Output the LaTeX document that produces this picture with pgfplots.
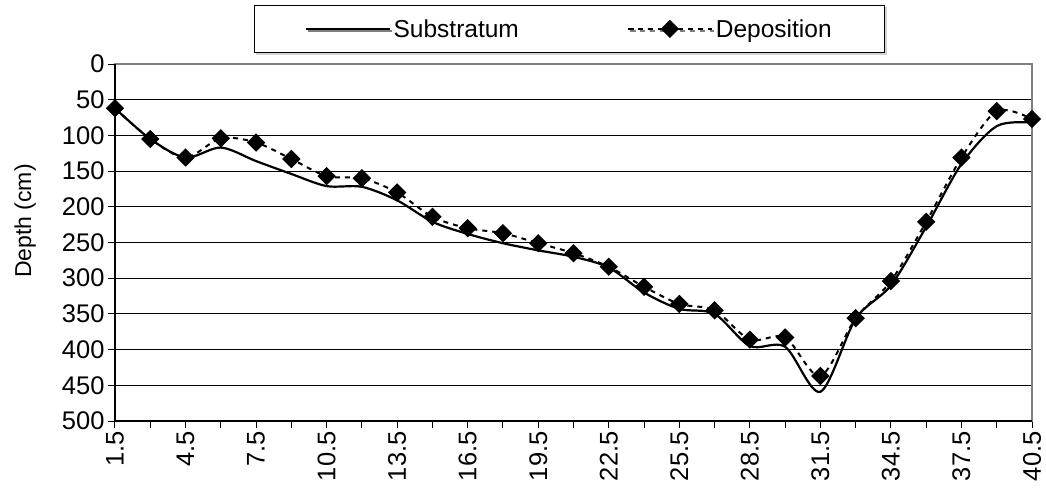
\documentclass[border=0pt]{standalone}
\usepackage{pgfplots}
\pgfplotsset{compat=1.18}
\usepackage{pgfplotstable}
\usepackage{fontspec}
\setmainfont{Liberation Sans}
\usetikzlibrary{shadows}

% depth profile (cm)
\pgfplotstableread{
x    sub  dep
1.5  62   62
3    105  105
4.5  131  131
6    117  104
7.5  136  110
9    154  133
10.5 171  157
12   172  160
13.5 191  180
15   221  214
16.5 238  230
18   251  237
19.5 261  251
21   270  265
22.5 285  284
24   320  312
25.5 343  336
27   350  345
28.5 395  386
30   396  383
31.5 459  437
33   357  356
34.5 310  304
36   228  221
37.5 140  131
39   87   66
40.5 82   77
}\depthdata

\begin{document}
\begin{tikzpicture}
\begin{axis}[
    scale only axis,
    width=917pt, height=357pt,
    xmin=1.5, xmax=40.5,
    ymin=0, ymax=500,
    y dir=reverse,
    clip=false,
    /pgf/number format/assume math mode=true,
    tick label style={font=\fontsize{25.5}{29}\selectfont},
    xtick={1.5,4.5,7.5,10.5,13.5,16.5,19.5,22.5,25.5,28.5,31.5,34.5,37.5,40.5},
    xticklabels={1.5,4.5,7.5,10.5,13.5,16.5,19.5,22.5,25.5,28.5,31.5,34.5,37.5,40.5},
    minor xtick={3,6,9,12,15,18,21,24,27,30,33,36,39},
    ytick={0,50,...,500},
    xticklabel style={rotate=90, anchor=east},
    ymajorgrids,
    grid style={black, line width=1pt},
    tick align=outside,
    xtick pos=left, ytick pos=left,
    major tick length=7pt, minor tick length=7pt,
    every tick/.style={black, line width=1pt},
    axis line style={draw=gray, line width=1.5pt},
    ylabel={Depth (cm)},
    ylabel style={font=\fontsize{23}{27}\selectfont,
        at={(axis description cs:-0.098,0.56)}, anchor=center},
    legend columns=2,
    legend image code/.code={
        \draw[mark repeat=2, mark phase=2, #1]
        plot coordinates {(0pt,0pt) (42pt,0pt) (84pt,0pt)};},
    legend style={
        at={(axis description cs:0.4957,1)}, anchor=south, yshift=11pt,
        draw=black, line width=1pt,
        drop shadow={shadow xshift=2pt, shadow yshift=-2pt, fill=gray!70},
        fill=white,
        inner xsep=50pt, inner ysep=12pt,
        nodes={inner xsep=3pt},
        font=\fontsize{24.5}{28}\selectfont,
        /tikz/every even column/.append style={column sep=105pt}},
    after end axis/.code={
        \draw[black, line width=1.5pt] (axis description cs:0,1)
            -- (axis description cs:0,0) -- (axis description cs:1,0);
        \coordinate (sw) at (axis description cs:0,0);
    },
]
\addplot[black, line width=2.2pt, smooth, no markers]
    table[x=x, y=sub] {\depthdata};
\addlegendentry{Substratum}
\addplot[black, line width=2pt, smooth, dash pattern=on 5pt off 5pt,
    mark=square*, mark size=5.5pt, mark options={solid, rotate=45}]
    table[x=x, y=dep] {\depthdata};
\addlegendentry{Deposition}
\end{axis}
\pgfresetboundingbox
\path (sw) ++(-115pt,-74pt) rectangle ++(1046pt,495pt);
\end{tikzpicture}
\end{document}
